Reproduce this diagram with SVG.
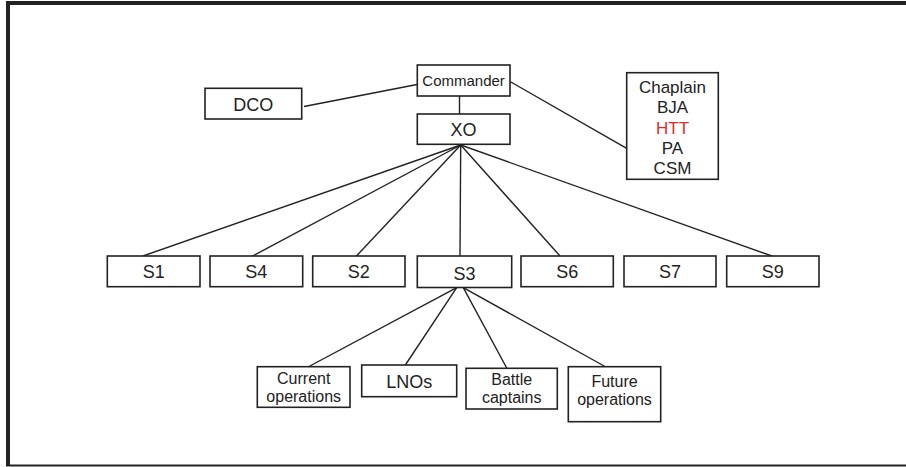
<svg xmlns="http://www.w3.org/2000/svg" width="906" height="467" viewBox="0 0 906 467">
<style>
.box{fill:#fff;stroke:#222;stroke-width:1.6}
.ln{stroke:#222;stroke-width:1.4;fill:none}
.t{font-family:"Liberation Sans",Arial,sans-serif;font-size:18px;fill:#222;text-anchor:middle}
.s{font-size:15px}
.m{font-size:17px}
.w{font-size:16px}
.red{fill:#e32b2b}
</style>
<rect x="0" y="0" width="906" height="467" fill="#fff"/>
<g id="frame" fill="none" stroke="#222">
<line x1="6" y1="3" x2="906" y2="3" stroke-width="4"/>
<line x1="8" y1="1" x2="8" y2="466" stroke-width="4"/>
<line x1="6" y1="465.5" x2="906" y2="465.5" stroke-width="2"/>
</g>
<g id="connectors">
<line class="ln" x1="304" y1="106.5" x2="417" y2="84.5"/>
<line class="ln" x1="459.5" y1="96" x2="459.5" y2="114"/>
<line class="ln" x1="510" y1="81.5" x2="626.7" y2="148.3"/>
<line class="ln" x1="460.7" y1="145" x2="143" y2="256"/>
<line class="ln" x1="460.7" y1="145" x2="251.7" y2="256.5"/>
<line class="ln" x1="460.7" y1="145" x2="356" y2="256.5"/>
<line class="ln" x1="460.7" y1="145" x2="460" y2="256"/>
<line class="ln" x1="460.7" y1="145" x2="560" y2="256"/>
<line class="ln" x1="460.7" y1="145" x2="773.3" y2="256.5"/>
<line class="ln" x1="456.7" y1="287.7" x2="308" y2="367"/>
<line class="ln" x1="456.7" y1="287.7" x2="405" y2="365.5"/>
<line class="ln" x1="463.3" y1="287.7" x2="506.7" y2="368"/>
<line class="ln" x1="463.3" y1="287.7" x2="605" y2="366.5"/>
</g>
<g id="commander"><rect class="box" x="417.3" y="65" width="92.7" height="31"/><text class="t s" x="463.6" y="86">Commander</text></g>
<g id="dco"><rect class="box" x="205" y="88.3" width="96.7" height="30.7"/><text class="t" x="253.3" y="110.5">DCO</text></g>
<g id="xo"><rect class="box" x="417.3" y="114" width="92.7" height="30.3"/><text class="t" x="463.6" y="136">XO</text></g>
<g id="staff"><rect class="box" x="626.7" y="72.7" width="91.6" height="106.6"/>
<text class="t m" x="672.5" y="93">Chaplain</text>
<text class="t m" x="672.5" y="113.3">BJA</text>
<text class="t m red" x="672.5" y="134">HTT</text>
<text class="t m" x="672.5" y="154.3">PA</text>
<text class="t m" x="672.5" y="174">CSM</text></g>
<g id="s1"><rect class="box" x="107.3" y="256" width="92.7" height="30.7"/><text class="t" x="153.7" y="278.3">S1</text></g>
<g id="s4"><rect class="box" x="210" y="256" width="92.7" height="30.7"/><text class="t" x="256.3" y="278.3">S4</text></g>
<g id="s2"><rect class="box" x="312.7" y="256" width="92.3" height="30.7"/><text class="t" x="358.8" y="278.3">S2</text></g>
<g id="s3"><rect class="box" x="417.3" y="256" width="94.4" height="31.5"/><text class="t" x="464.5" y="279.5">S3</text></g>
<g id="s6"><rect class="box" x="521" y="256" width="92.3" height="30.7"/><text class="t" x="567.2" y="278.3">S6</text></g>
<g id="s7"><rect class="box" x="624" y="256" width="92" height="30.7"/><text class="t" x="670" y="277.5">S7</text></g>
<g id="s9"><rect class="box" x="726.7" y="256" width="92.3" height="30.7"/><text class="t" x="772.8" y="278.3">S9</text></g>
<g id="current-ops"><rect class="box" x="257.3" y="366.7" width="92.7" height="40.6"/><text class="t w" x="303.7" y="384">Current</text><text class="t w" x="303.7" y="401.5">operations</text></g>
<g id="lnos"><rect class="box" x="361.7" y="365" width="95" height="31.7"/><text class="t" x="409.2" y="388.3">LNOs</text></g>
<g id="battle-captains"><rect class="box" x="466" y="368.3" width="91.3" height="40.7"/><text class="t w" x="511.7" y="385">Battle</text><text class="t w" x="511.7" y="402.5">captains</text></g>
<g id="future-ops"><rect class="box" x="568.3" y="366.7" width="92.4" height="55"/><text class="t w" x="614.5" y="386.7">Future</text><text class="t w" x="614.5" y="404.5">operations</text></g>
</svg>
